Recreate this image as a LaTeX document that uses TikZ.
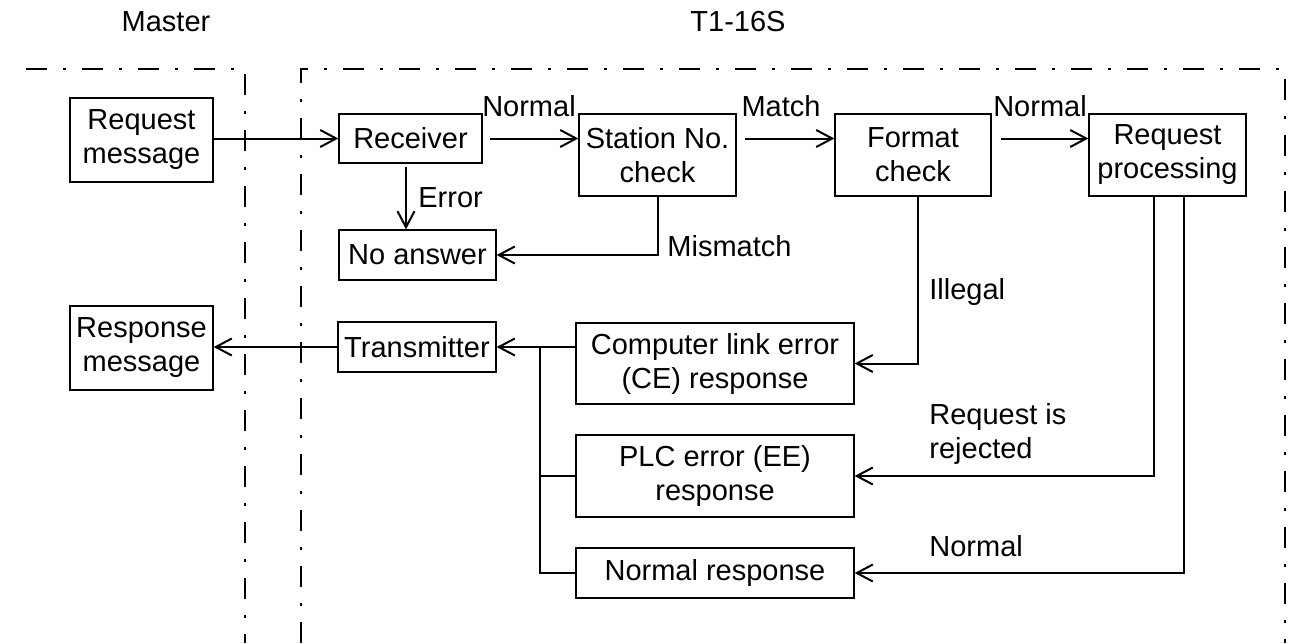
\documentclass[tikz,border=0pt]{standalone}
\usepackage{fontspec}
\setmainfont{Liberation Sans}
\usetikzlibrary{arrows.meta}
\begin{document}
\begin{tikzpicture}[x=0.5pt,y=-0.5pt,
  font=\fontsize{14.5}{17}\selectfont,
  box/.style={draw=black, line width=0.65pt, inner sep=0pt, align=center},
  lbl/.style={inner sep=0pt, align=left},
  ln/.style={line width=1pt},
  arr/.style={line width=1pt, -{Straight Barb[length=8pt,width=8.5pt,line width=1pt]}},
  bnd/.style={line width=0.6pt, dash pattern=on 10.5pt off 8pt on 1.5pt off 8pt}
]
\useasboundingbox (0,0) rectangle (1290,643);
% titles
\node[lbl] (tm) at (166,22) {Master};
\node[lbl] (tt) at (738,22) {T1-16S};
% boundaries
\draw[bnd] (26,69) -- (245,69) -- (245,643);
\draw[bnd] (301,643) -- (301,69) -- (1285,69) -- (1285,643);
% boxes
\node[box, minimum width=71.5pt, minimum height=42pt] (req) at (141.5,140) {Request\\message};
\node[box, minimum width=71.5pt, minimum height=24.5pt] (rcv) at (410.5,138.5) {Receiver};
\node[box, minimum width=78.5pt, minimum height=41pt] (stn) at (657.5,155) {Station No.\\check};
\node[box, minimum width=78pt, minimum height=41pt] (fmt) at (913,155) {Format\\check};
\node[box, minimum width=78.5pt, minimum height=41pt] (rqp) at (1167.5,155) {Request\\processing};
\node[box, minimum width=78.5pt, minimum height=25pt] (noa) at (417.5,255) {No answer};
\node[box, minimum width=71.5pt, minimum height=42pt] (rsp) at (141.5,348) {Response\\message};
\node[box, minimum width=79pt, minimum height=25pt] (tx) at (417,347) {Transmitter};
\node[box, minimum width=139pt, minimum height=40.5pt] (ce) at (715,363.5) {Computer link error\\(CE) response};
\node[box, minimum width=139pt, minimum height=41pt] (plc) at (715,476) {PLC error (EE)\\response};
\node[box, minimum width=139pt, minimum height=25pt] (nrm) at (715,573) {Normal response};
% top flow
\draw[arr] (req.east |- rcv.west) -- (rcv.west);
\draw[arr] ([xshift=3.5pt]rcv.east) -- (rcv.east -| stn.west);
\draw[arr] ([xshift=4pt]stn.east |- rcv.east) -- (rcv.east -| fmt.west);
\draw[arr] ([xshift=4.5pt]fmt.east |- rcv.east) -- (rcv.east -| rqp.west);
\draw[arr] ([xshift=-2.25pt,yshift=-1.5pt]rcv.south) -- ([xshift=-2.25pt]rcv.south |- noa.north);
\draw[arr] (stn.south) |- (noa.east);
\draw[arr] ([xshift=2.5pt]fmt.south) |- (ce.east);
\draw[arr] ([xshift=-6.75pt]rqp.south) |- (plc.east);
\draw[arr] ([xshift=8.25pt]rqp.south) |- (nrm.east);
% response bus
\coordinate (bus) at (540,347);
\draw[arr] (ce.west |- tx.east) -- (tx.east);
\draw[ln] (plc.west) -- (plc.west -| bus);
\draw[ln] (nrm.west) -| (bus);
\draw[arr] (tx.west) -- (tx.west -| rsp.east);
% labels
\node[lbl] (l1) at (529,106) {Normal};
\node[lbl, anchor=west] (l2) at (418,198) {Error};
\node[lbl] (l3) at (781,106) {Match};
\node[lbl] (l4) at (1040,106) {Normal};
\node[lbl, anchor=west] (l5) at (667,246) {Mismatch};
\node[lbl, anchor=west] (l6) at (929,292) {Illegal};
\node[lbl, anchor=west] (l7) at (929,434) {Request is\\rejected};
\node[lbl, anchor=west] (l8) at (929,546) {Normal};
\end{tikzpicture}
\end{document}
